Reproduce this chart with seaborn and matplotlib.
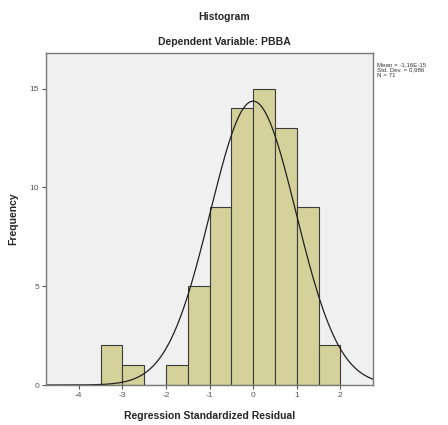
import numpy as np
import matplotlib.pyplot as plt
import seaborn as sns

# histogram of residuals
bin_edges = [-3.5, -3.0, -2.5, -2.0, -1.5, -1.0, -0.5, 0.0, 0.5, 1.0, 1.5, 2.0]
counts = [2, 1, 0, 1, 5, 9, 14, 15, 13, 9, 2]
res_mean = -1.16e-15
res_sd = 0.986
n_obs = 71

x_ticks = [-4, -3, -2, -1, 0, 1, 2]
y_ticks = [0, 5, 10, 15]

sns.set_style('white')
plt.rcParams['font.family'] = ['Liberation Sans', 'DejaVu Sans']
plt.rcParams['axes.unicode_minus'] = False

fig = plt.figure(figsize=(4.48, 4.25), dpi=100)
ax = fig.add_axes([0.1027, 0.0941, 0.7299, 0.7812])
ax.set_facecolor('#f0f0f0')

centers = [(a + b) / 2 for a, b in zip(bin_edges[:-1], bin_edges[1:])]
sns.histplot(x=centers, weights=counts, bins=bin_edges, ax=ax,
             color='#d4d19a', edgecolor='#3c3c3c', linewidth=0.8, alpha=1)

# normal curve scaled to counts
width = bin_edges[1] - bin_edges[0]
xs = np.linspace(-4.75, 2.75, 400)
ys = n_obs * width * np.exp(-0.5 * ((xs - res_mean) / res_sd) ** 2) / (res_sd * np.sqrt(2 * np.pi))
ax.plot(xs, ys, color='#202020', lw=0.9)

ax.set_xlim(-4.75, 2.75)
ax.set_ylim(0, 16.8)
ax.set_xticks(x_ticks)
ax.set_yticks(y_ticks)
ax.tick_params(axis='both', direction='out', length=3, width=0.8, colors='#555555',
               labelsize=6, bottom=True, left=True, pad=2)
for s in ax.spines.values():
    s.set_color('#7a7a7a')
    s.set_linewidth(1.0)

ax.set_xlabel('Regression Standardized Residual', fontsize=7.5, fontweight='bold', labelpad=9)
ax.set_ylabel('Frequency', fontsize=7.5, fontweight='bold', labelpad=8)

fig.text(0.5, 0.96, 'Histogram', ha='center', va='center', fontsize=7.5, fontweight='bold')
fig.text(0.5, 0.901, 'Dependent Variable: PBBA', ha='center', va='center', fontsize=7.5, fontweight='bold')

fig.text(0.841, 0.835, 'Mean = -1,16E-15\nStd. Dev. = 0,986\nN = 71', ha='left', va='center',
         fontsize=4.4, color='#333333', linespacing=1.05)

fig.savefig('out.png', dpi=100)
